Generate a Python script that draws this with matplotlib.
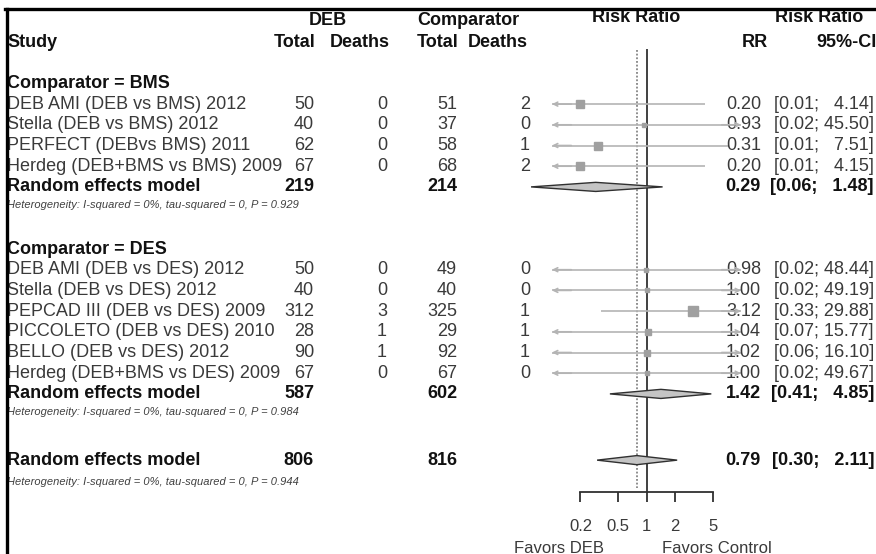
import matplotlib
matplotlib.use("Agg")
import matplotlib.pyplot as plt
from matplotlib import transforms
from matplotlib.lines import Line2D
from matplotlib.patches import Polygon

plt.rcParams['font.family'] = ['Liberation Sans', 'DejaVu Sans']

# ---- data: comparator = BMS ----
bms_study = ["DEB AMI (DEB vs BMS) 2012", "Stella (DEB vs BMS) 2012",
             "PERFECT (DEBvs BMS) 2011", "Herdeg (DEB+BMS vs BMS) 2009"]
bms_deb_total = [50, 40, 62, 67]
bms_deb_deaths = [0, 0, 0, 0]
bms_cmp_total = [51, 37, 58, 68]
bms_cmp_deaths = [2, 0, 1, 2]
bms_rr = [0.20, 0.93, 0.31, 0.20]
bms_lo = [0.01, 0.02, 0.01, 0.01]
bms_hi = [4.14, 45.50, 7.51, 4.15]
bms_weight = [28, 10, 24, 28]
bms_pooled = (219, 214, 0.29, 0.06, 1.48)
bms_het = "Heterogeneity: I-squared = 0%, tau-squared = 0, P = 0.929"

# ---- data: comparator = DES ----
des_study = ["DEB AMI (DEB vs DES) 2012", "Stella (DEB vs DES) 2012",
             "PEPCAD III (DEB vs DES) 2009", "PICCOLETO (DEB vs DES) 2010",
             "BELLO (DEB vs DES) 2012", "Herdeg (DEB+BMS vs DES) 2009"]
des_deb_total = [50, 40, 312, 28, 90, 67]
des_deb_deaths = [0, 0, 3, 1, 1, 0]
des_cmp_total = [49, 40, 325, 29, 92, 67]
des_cmp_deaths = [0, 0, 1, 1, 1, 0]
des_rr = [0.98, 1.00, 3.12, 1.04, 1.02, 1.00]
des_lo = [0.02, 0.02, 0.33, 0.07, 0.06, 0.02]
des_hi = [48.44, 49.19, 29.88, 15.77, 16.10, 49.67]
des_weight = [8, 8, 40, 17, 17, 8]
des_pooled = (587, 602, 1.42, 0.41, 4.85)
des_het = "Heterogeneity: I-squared = 0%, tau-squared = 0, P = 0.984"

# ---- overall ----
all_pooled = (806, 816, 0.79, 0.30, 2.11)
all_het = "Heterogeneity: I-squared = 0%, tau-squared = 0, P = 0.944"

xticks = [0.2, 0.5, 1, 2, 5]
xlim = (0.1, 10)

W, H = 876, 554
ROW0, ROWH = 42, 20.7   # pixel row of the column header line, row height

fig = plt.figure(figsize=(W / 100, H / 100), dpi=100)
ax = fig.add_axes([552 / W, 0, (741 - 552) / W, 1])
ax.set_xscale('log')
ax.set_xlim(*xlim)
ax.set_ylim((H - ROW0) / ROWH, -ROW0 / ROWH)

tr = transforms.blended_transform_factory(fig.transFigure, ax.transData)

REG = '#3a3a3a'
BLD = '#111111'
FS = 13


def put(xpx, row, s, ha='left', bold=False, size=FS, color=None, italic=False):
    ax.text(xpx / W, row, s, transform=tr, ha=ha, va='center', fontsize=size,
            fontweight='bold' if bold else 'normal',
            fontstyle='italic' if italic else 'normal',
            color=color or (BLD if bold else REG), clip_on=False)


def ci_text(lo, hi):
    return "[%.2f; %s]" % (lo, ("%.2f" % hi).rjust(5).replace(' ', '  '))


def draw_study(row, name, dt, dd, ct, cd, rr, lo, hi, w):
    put(7, row, name)
    put(314, row, str(dt), 'right')
    put(387, row, str(dd), 'right')
    put(457, row, str(ct), 'right')
    put(530, row, str(cd), 'right')
    put(761, row, "%.2f" % rr, 'right')
    put(874, row, ci_text(lo, hi), 'right')
    a, b = max(lo, xlim[0]), min(hi, xlim[1])
    ax.plot([a, b], [row, row], color='#b4b4b4', lw=1.2, zorder=2,
            solid_capstyle='butt')
    if lo < xlim[0]:
        ax.annotate('', xy=(xlim[0], row), xytext=(xlim[0] * 1.6, row),
                    arrowprops=dict(arrowstyle='->', color='#b4b4b4', lw=1.2,
                                    mutation_scale=7, shrinkA=0, shrinkB=0))
    if hi > xlim[1]:
        ax.annotate('', xy=(xlim[1], row), xytext=(xlim[1] / 1.6, row),
                    arrowprops=dict(arrowstyle='->', color='#b4b4b4', lw=1.2,
                                    mutation_scale=7, shrinkA=0, shrinkB=0))
    side = 10 * (w / 40) ** 0.5 * 0.72
    ax.plot([rr], [row], marker='s', ms=side, color='#a0a0a0', mec='#a0a0a0',
            zorder=3, clip_on=False)


def draw_pooled(row, pooled, het_row, het):
    dt, ct, rr, lo, hi = pooled
    put(7, row, "Random effects model", bold=True)
    put(314, row, str(dt), 'right', bold=True)
    put(457, row, str(ct), 'right', bold=True)
    put(761, row, "%.2f" % rr, 'right', bold=True)
    put(874, row, ci_text(lo, hi), 'right', bold=True)
    h = 0.22
    ax.add_patch(Polygon([(lo, row), (rr, row - h), (hi, row), (rr, row + h)],
                         closed=True, fc='#c4c4c4', ec='#303030', lw=1.0,
                         zorder=4, clip_on=False))
    put(7, het_row, het, size=8, italic=True, color='#404040')


# headers
put(328, -1.05, "DEB", 'center', bold=True)
put(468, -1.05, "Comparator", 'center', bold=True)
put(636, -1.2, "Risk Ratio", 'center', bold=True)
put(819, -1.2, "Risk Ratio", 'center', bold=True)
put(7, 0, "Study", bold=True)
put(315, 0, "Total", 'right', bold=True)
put(390, 0, "Deaths", 'right', bold=True)
put(458, 0, "Total", 'right', bold=True)
put(528, 0, "Deaths", 'right', bold=True)
put(755, 0, "RR", 'center', bold=True)
put(816, 0, "95%-CI", 'left', bold=True)

# group BMS
put(7, 2, "Comparator = BMS", bold=True)
r = 3
for i in range(len(bms_study)):
    draw_study(r + i, bms_study[i], bms_deb_total[i], bms_deb_deaths[i],
               bms_cmp_total[i], bms_cmp_deaths[i], bms_rr[i], bms_lo[i],
               bms_hi[i], bms_weight[i])
r += len(bms_study)
draw_pooled(r, bms_pooled, r + 0.87, bms_het)

# group DES
r += 3
put(7, r, "Comparator = DES", bold=True)
r += 1
for i in range(len(des_study)):
    draw_study(r + i, des_study[i], des_deb_total[i], des_deb_deaths[i],
               des_cmp_total[i], des_cmp_deaths[i], des_rr[i], des_lo[i],
               des_hi[i], des_weight[i])
r += len(des_study)
draw_pooled(r, des_pooled, r + 0.87, des_het)

# overall
r += 3.2
draw_pooled(r, all_pooled, r + 1.05, all_het)
axis_row = r + 1.55

# reference lines
ax.plot([1, 1], [0.4, axis_row], color='#404040', lw=1.4, zorder=1)
ax.plot([all_pooled[2]] * 2, [0.4, axis_row - 0.2], color='#707070', lw=1.1,
        ls=(0, (1.2, 1.2)), zorder=1)

# bottom axis
for s in ['top', 'left', 'right']:
    ax.spines[s].set_visible(False)
ax.spines['bottom'].set_position(('data', axis_row))
ax.spines['bottom'].set_bounds(xticks[0], xticks[-1])
ax.spines['bottom'].set_color('#303030')
ax.spines['bottom'].set_linewidth(1.3)
ax.set_xticks(xticks)
ax.set_xticklabels(["0.2", "0.5", "1", "2", "5"])
ax.xaxis.set_minor_locator(matplotlib.ticker.NullLocator())
ax.tick_params(axis='x', direction='out', length=7.5, width=1.3, color='#303030',
               labelsize=12, labelcolor=REG, pad=12)
ax.set_yticks([])
ax.patch.set_visible(False)

ax.text(0.118, axis_row + 2.7, "Favors DEB", ha='center', va='center',
        fontsize=12, color=REG, clip_on=False)
ax.text(5.6, axis_row + 2.7, "Favors Control", ha='center', va='center',
        fontsize=12, color=REG, clip_on=False)

# frame lines on top and left
fig.add_artist(Line2D([5 / W, 1], [1 - 8.5 / H] * 2, transform=fig.transFigure,
                      color='black', lw=2.4))
fig.add_artist(Line2D([6.5 / W] * 2, [0, 1 - 8.5 / H], transform=fig.transFigure,
                      color='black', lw=2.4))

fig.savefig("out.png", dpi=100, facecolor='white')
